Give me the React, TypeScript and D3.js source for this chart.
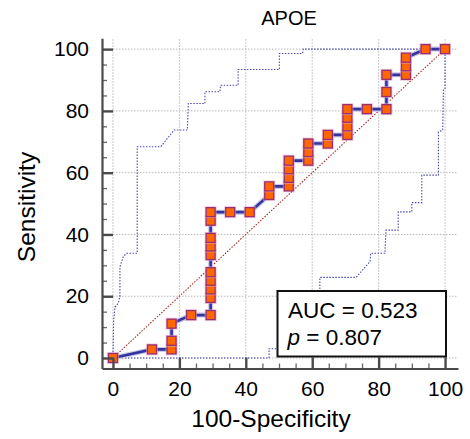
import React, { useEffect, useRef } from "react";
import * as d3 from "d3";

// ROC curve points (100-Specificity, Sensitivity)
const rocX = [0, 11.76, 17.65, 17.65, 17.65, 23.53, 29.41, 29.41, 29.41, 29.41, 29.41, 29.41, 29.41, 29.41, 29.41, 29.41, 35.29, 41.18, 47.06, 47.06, 52.94, 52.94, 52.94, 52.94, 58.82, 58.82, 58.82, 64.71, 64.71, 70.59, 70.59, 70.59, 70.59, 76.47, 82.35, 82.35, 82.35, 88.24, 88.24, 88.24, 94.12, 100];
const rocY = [0, 2.78, 2.78, 5.56, 11.11, 13.89, 13.89, 19.44, 22.22, 25, 27.78, 33.33, 36.11, 38.89, 44.44, 47.22, 47.22, 47.22, 52.78, 55.56, 55.56, 58.33, 61.11, 63.89, 63.89, 66.67, 69.44, 69.44, 72.22, 72.22, 75, 77.78, 80.56, 80.56, 80.56, 86.11, 91.67, 91.67, 94.44, 97.22, 100, 100];

// Upper confidence bound
const upperX = [0, 0.2, 0.6, 1.6, 2.1, 2.1, 3.1, 4.1, 7.3, 7.3, 14.4, 18.4, 22.4, 22.7, 27.7, 27.7, 32.2, 32.4, 37.7, 37.7, 50.1, 50.1, 57.1, 57.3, 100];
const upperY = [0, 12, 16.5, 17.7, 20, 29.5, 32.8, 33.9, 33.9, 68.4, 68.4, 73.8, 73.8, 82.4, 82.4, 86.2, 86.2, 88.3, 88.3, 93.4, 93.4, 98.6, 98.6, 100, 100];

// Lower confidence bound
const lowerX = [0, 47, 47, 53, 53, 58, 58, 62.3, 62.3, 73.2, 77.4, 77.6, 81.9, 82.2, 85.9, 85.9, 90, 90, 93, 93, 98, 98, 99.3, 99.5, 100, 100];
const lowerY = [0, 0, 3, 3, 8, 8, 14, 14, 26.1, 26.1, 31.2, 33.9, 33.9, 41.4, 41.4, 47.3, 47.3, 50.3, 50.3, 59.2, 59.2, 73.2, 73.8, 86.7, 87, 100];

const majorTicks = [0, 20, 40, 60, 80, 100];
const minorTicks = [5, 10, 15, 25, 30, 35, 45, 50, 55, 65, 70, 75, 85, 90, 95];

const titleText = "APOE";
const xTitle = "100-Specificity";
const yTitle = "Sensitivity";
const aucLabel = "AUC = 0.523";
const pValue = "0.807";

const W = 470;
const H = 439;
const FONT = "'Liberation Sans', Arial, sans-serif";

export default function App() {
  const xAxisRef = useRef<SVGGElement>(null);
  const yAxisRef = useRef<SVGGElement>(null);
  const xMinorRef = useRef<SVGGElement>(null);
  const yMinorRef = useRef<SVGGElement>(null);

  const x = d3.scaleLinear().domain([-3.3, 103.9]).range([102, 458]);
  const y = d3.scaleLinear().domain([-3.4, 103.5]).range([368.5, 38.3]);

  useEffect(() => {
    const axColor = "#4a4a4a";
    const xa = d3.select(xAxisRef.current!);
    xa.call(
      d3.axisBottom(x).tickValues(majorTicks).tickSizeInner(-11).tickSizeOuter(0).tickPadding(12.5).tickFormat(d3.format("d")) as any
    );
    xa.select(".domain").attr("stroke", axColor).attr("stroke-width", 2.2);
    xa.selectAll(".tick line").attr("stroke", axColor).attr("stroke-width", 2.4);
    xa.selectAll(".tick text").attr("fill", "#000").style("font-size", "21px").style("font-family", FONT);

    const ya = d3.select(yAxisRef.current!);
    ya.call(
      d3.axisLeft(y).tickValues(majorTicks).tickSizeInner(-11).tickSizeOuter(0).tickPadding(13).tickFormat(d3.format("d")) as any
    );
    ya.select(".domain").attr("stroke", axColor).attr("stroke-width", 2.2);
    ya.selectAll(".tick line").attr("stroke", axColor).attr("stroke-width", 2.4);
    ya.selectAll(".tick text").attr("fill", "#000").style("font-size", "21px").style("font-family", FONT);

    const xm = d3.select(xMinorRef.current!);
    xm.call(d3.axisBottom(x).tickValues(minorTicks).tickSizeInner(-5).tickSizeOuter(0).tickFormat(() => "") as any);
    xm.select(".domain").remove();
    xm.selectAll(".tick line").attr("stroke", "#666").attr("stroke-width", 1.3);

    const ym = d3.select(yMinorRef.current!);
    ym.call(d3.axisLeft(y).tickValues(minorTicks).tickSizeInner(-5).tickSizeOuter(0).tickFormat(() => "") as any);
    ym.select(".domain").remove();
    ym.selectAll(".tick line").attr("stroke", "#666").attr("stroke-width", 1.3);
  }, []);

  const line = d3
    .line<[number, number]>()
    .x((d) => x(d[0]))
    .y((d) => y(d[1]));

  const rocPts: [number, number][] = rocX.map((v, i) => [v, rocY[i]]);
  const upPts: [number, number][] = upperX.map((v, i) => [v, upperY[i]]);
  const loPts: [number, number][] = lowerX.map((v, i) => [v, lowerY[i]]);

  const gridStroke = "#b8b8b8";
  const ms = 9;

  return (
    <svg width={W} height={H} style={{ position: "absolute", left: 0, top: 0, background: "#fff" }} fontFamily={FONT}>
      <rect x={0} y={0} width={W} height={H} fill="#fff" />
      {/* grid */}
      <g>
        {majorTicks.map((t) => (
          <line key={"gx" + t} x1={x(t)} x2={x(t)} y1={y(103.2)} y2={y(0)} stroke={gridStroke} strokeWidth={1} strokeDasharray="1.5,1.5" />
        ))}
        {majorTicks.map((t) => (
          <line key={"gy" + t} x1={x(0)} x2={x(103.6)} y1={y(t)} y2={y(t)} stroke={gridStroke} strokeWidth={1} strokeDasharray="1.5,1.5" />
        ))}
      </g>
      {/* diagonal */}
      <line x1={x(0)} y1={y(0)} x2={x(100)} y2={y(100)} stroke="#a82828" strokeWidth={1.1} strokeDasharray="1.5,1.5" />
      {/* confidence bounds */}
      <path d={line(upPts) || ""} fill="none" stroke="#4848b0" strokeWidth={1.1} strokeDasharray="1.5,1.5" />
      <path d={line(loPts) || ""} fill="none" stroke="#4848b0" strokeWidth={1.1} strokeDasharray="1.5,1.5" />
      {/* ROC curve */}
      <path d={line(rocPts) || ""} fill="none" stroke="#c8c8e8" strokeWidth={5} />
      <path d={line(rocPts) || ""} fill="none" stroke="#3434a0" strokeWidth={2.6} />
      {rocPts.map((p, i) => (
        <g key={"m" + i}>
          <rect x={x(p[0]) - ms / 2 - 1.5} y={y(p[1]) - ms / 2 - 1.5} width={ms + 3} height={ms + 3} fill="#e6a8c8" opacity={0.6} />
          <rect x={x(p[0]) - ms / 2} y={y(p[1]) - ms / 2} width={ms} height={ms} fill="#ff6600" stroke="#9a3070" strokeWidth={1.3} />
        </g>
      ))}
      {/* axes */}
      <g ref={xMinorRef} transform={`translate(0,${368.5})`} />
      <g ref={yMinorRef} transform={`translate(${102},0)`} />
      <g ref={xAxisRef} transform={`translate(0,${368.5})`} />
      <g ref={yAxisRef} transform={`translate(${102},0)`} />
      {/* AUC box */}
      <rect x={277.5} y={291} width={168.5} height={65.5} fill="#fff" stroke="#111" strokeWidth={2} />
      <text x={288} y={317.5} fontSize={22.5} fill="#000">{aucLabel}</text>
      <text x={287.5} y={344.5} fontSize={22.5} fill="#000">
        <tspan fontStyle="italic">p</tspan>
        <tspan>{" = " + pValue}</tspan>
      </text>
      {/* titles */}
      <text x={289} y={25} textAnchor="middle" fontSize={20} fill="#000">{titleText}</text>
      <text x={271} y={427} textAnchor="middle" fontSize={24.5} fill="#000">{xTitle}</text>
      <text transform={`translate(35,207) rotate(-90)`} textAnchor="middle" fontSize={24.5} fill="#000">{yTitle}</text>
    </svg>
  );
}
